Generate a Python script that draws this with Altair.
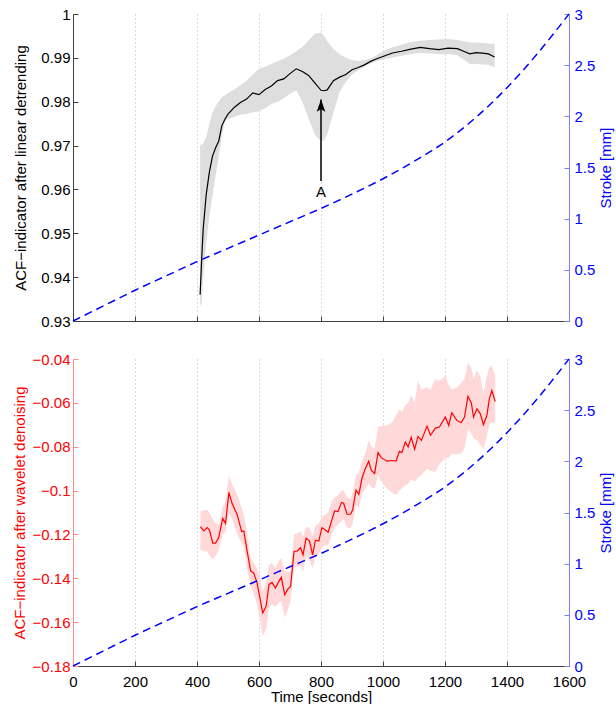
import altair as alt
import pandas as pd

# ---------------------------------------------------------------- data
# ACF indicator after linear detrending: mean and spread band
top_time = [410, 415, 420, 430, 440, 450, 460, 470, 480, 490,
            500, 520, 540, 560, 580, 600, 620, 640, 660, 680,
            700, 720, 740, 760, 780, 800, 810, 820, 840, 860,
            880, 900, 920, 940, 960, 980, 1000, 1030, 1060, 1090,
            1120, 1150, 1180, 1210, 1240, 1260, 1280, 1300, 1320, 1340,
            1360]
top_mean = [0.9360, 0.9440, 0.9510, 0.9590, 0.9640, 0.9676, 0.9695, 0.9710, 0.9745, 0.9760,
            0.9772, 0.9787, 0.9798, 0.9806, 0.9820, 0.9816, 0.9828, 0.9836, 0.9848, 0.9852,
            0.9864, 0.9875, 0.9869, 0.9860, 0.9843, 0.9826, 0.9825, 0.9827, 0.9848, 0.9856,
            0.9862, 0.9873, 0.9878, 0.9884, 0.9892, 0.9898, 0.9903, 0.9911, 0.9915, 0.9920,
            0.9924, 0.9921, 0.9919, 0.9922, 0.9921, 0.9915, 0.9909, 0.9912, 0.9911, 0.9909,
            0.9902]
top_upper = [0.9702, 0.9702, 0.9705, 0.9720, 0.9750, 0.9776, 0.9790, 0.9800, 0.9810, 0.9815,
             0.9820, 0.9828, 0.9838, 0.9848, 0.9862, 0.9875, 0.9880, 0.9886, 0.9892, 0.9898,
             0.9906, 0.9915, 0.9925, 0.9940, 0.9955, 0.9958, 0.9950, 0.9938, 0.9920, 0.9908,
             0.9900, 0.9895, 0.9893, 0.9895, 0.9899, 0.9906, 0.9915, 0.9924, 0.9930, 0.9936,
             0.9939, 0.9941, 0.9942, 0.9943, 0.9941, 0.9938, 0.9935, 0.9935, 0.9934, 0.9933,
             0.9932]
top_lower = [0.9335, 0.9340, 0.9400, 0.9480, 0.9540, 0.9585, 0.9630, 0.9675, 0.9720, 0.9755,
             0.9760, 0.9765, 0.9770, 0.9772, 0.9776, 0.9778, 0.9785, 0.9795, 0.9800, 0.9808,
             0.9818, 0.9826, 0.9800, 0.9762, 0.9725, 0.9710, 0.9712, 0.9725, 0.9775, 0.9822,
             0.9845, 0.9862, 0.9872, 0.9880, 0.9887, 0.9892, 0.9896, 0.9901, 0.9905, 0.9909,
             0.9911, 0.9910, 0.9908, 0.9909, 0.9906, 0.9896, 0.9886, 0.9886, 0.9885, 0.9884,
             0.9878]

# ACF indicator after wavelet denoising: mean and spread band
bot_time = [411, 422, 433, 440, 451, 460, 470, 483, 492, 503,
            513, 530, 544, 551, 562, 573, 583, 594, 605, 612,
            623, 632, 642, 653, 664, 672, 683, 694, 702, 713,
            724, 734, 742, 752, 763, 773, 782, 793, 803, 814,
            823, 834, 844, 855, 866, 873, 884, 895, 902, 913,
            922, 932, 943, 954, 962, 973, 984, 995, 1013, 1029,
            1042, 1053, 1061, 1072, 1081, 1091, 1102, 1113, 1124, 1142,
            1153, 1169, 1182, 1201, 1212, 1222, 1238, 1252, 1263, 1274,
            1285, 1292, 1303, 1314, 1324, 1335, 1343, 1351, 1362]
bot_mean = [-0.1164, -0.1184, -0.1169, -0.1180, -0.1240, -0.1240, -0.1214, -0.1127, -0.1149, -0.1008,
            -0.1058, -0.1111, -0.1187, -0.1184, -0.1278, -0.1366, -0.1376, -0.1422, -0.1505, -0.1558,
            -0.1528, -0.1429, -0.1419, -0.1444, -0.1414, -0.1396, -0.1475, -0.1447, -0.1437, -0.1278,
            -0.1275, -0.1260, -0.1293, -0.1217, -0.1230, -0.1293, -0.1226, -0.1230, -0.1169, -0.1180,
            -0.1190, -0.1139, -0.1093, -0.1096, -0.1054, -0.1058, -0.1108, -0.1108, -0.1089, -0.0998,
            -0.1018, -0.0945, -0.0899, -0.0866, -0.0907, -0.0922, -0.0827, -0.0851, -0.0866, -0.0863,
            -0.0866, -0.0821, -0.0827, -0.0778, -0.0801, -0.0757, -0.0812, -0.0753, -0.0771, -0.0706,
            -0.0748, -0.0715, -0.0710, -0.0665, -0.0703, -0.0645, -0.0680, -0.0691, -0.0665, -0.0570,
            -0.0600, -0.0665, -0.0627, -0.0650, -0.0700, -0.0658, -0.0582, -0.0544, -0.0594]
bot_lower = [-0.1270, -0.1275, -0.1278, -0.1295, -0.1316, -0.1300, -0.1270, -0.1200, -0.1190, -0.1104,
             -0.1130, -0.1200, -0.1240, -0.1255, -0.1360, -0.1430, -0.1470, -0.1520, -0.1600, -0.1664,
             -0.1630, -0.1535, -0.1520, -0.1530, -0.1510, -0.1505, -0.1580, -0.1540, -0.1500, -0.1354,
             -0.1345, -0.1340, -0.1370, -0.1300, -0.1320, -0.1354, -0.1300, -0.1290, -0.1260, -0.1248,
             -0.1250, -0.1200, -0.1170, -0.1157, -0.1140, -0.1130, -0.1170, -0.1172, -0.1150, -0.1066,
             -0.1080, -0.1013, -0.0990, -0.0968, -0.0985, -0.0990, -0.0930, -0.0960, -0.0990, -0.1010,
             -0.1020, -0.1000, -0.0990, -0.0975, -0.0970, -0.0950, -0.0960, -0.0940, -0.0930, -0.0900,
             -0.0910, -0.0915, -0.0880, -0.0852, -0.0850, -0.0831, -0.0835, -0.0830, -0.0809, -0.0718,
             -0.0740, -0.0763, -0.0770, -0.0790, -0.0809, -0.0750, -0.0700, -0.0688, -0.0695]
bot_upper = [-0.1096, -0.1090, -0.1089, -0.1100, -0.1130, -0.1150, -0.1157, -0.1073, -0.1050, -0.0930,
             -0.0970, -0.1020, -0.1080, -0.1110, -0.1200, -0.1308, -0.1330, -0.1354, -0.1410, -0.1460,
             -0.1420, -0.1340, -0.1330, -0.1354, -0.1320, -0.1308, -0.1370, -0.1370, -0.1370, -0.1200,
             -0.1195, -0.1187, -0.1210, -0.1165, -0.1170, -0.1210, -0.1160, -0.1150, -0.1120, -0.1110,
             -0.1100, -0.1050, -0.1030, -0.1020, -0.1000, -0.0998, -0.1030, -0.1040, -0.1010, -0.0930,
             -0.0920, -0.0869, -0.0830, -0.0771, -0.0800, -0.0809, -0.0710, -0.0705, -0.0703, -0.0690,
             -0.0657, -0.0627, -0.0640, -0.0612, -0.0600, -0.0566, -0.0600, -0.0498, -0.0540, -0.0529,
             -0.0540, -0.0491, -0.0500, -0.0476, -0.0520, -0.0540, -0.0530, -0.0510, -0.0490, -0.0415,
             -0.0440, -0.0490, -0.0453, -0.0480, -0.0560, -0.0480, -0.0440, -0.0430, -0.0476]

# Stroke of the loading rig
stroke_time = [0, 100, 200, 300, 400, 500, 600, 700, 800, 900,
               1000, 1100, 1200, 1300, 1400, 1500, 1600]
stroke_mm = [0.00, 0.15, 0.30, 0.44, 0.58, 0.71, 0.84, 0.97, 1.10, 1.24,
             1.39, 1.56, 1.75, 1.99, 2.28, 2.62, 3.00]

# Annotation "A": arrow pointing at the dip of the detrended indicator
arrow_time = [800]
arrow_tail = [0.9619]
arrow_tip = [0.9805]
arrow_label_y = [0.9594]

top_ticks = [0.93, 0.94, 0.95, 0.96, 0.97, 0.98, 0.99, 1.00]
bot_ticks = [-0.18, -0.16, -0.14, -0.12, -0.10, -0.08, -0.06, -0.04]
stroke_ticks = [0, 0.5, 1, 1.5, 2, 2.5, 3]
time_ticks = [0, 200, 400, 600, 800, 1000, 1200, 1400, 1600]

top_df = pd.DataFrame({"t": top_time, "v": top_mean, "lo": top_lower, "hi": top_upper})
bot_df = pd.DataFrame({"t": bot_time, "v": bot_mean, "lo": bot_lower, "hi": bot_upper})
stroke_df = pd.DataFrame({"t": stroke_time, "s": stroke_mm})
arrow_df = pd.DataFrame({"t": arrow_time, "tail": arrow_tail, "tip": arrow_tip,
                         "label_y": arrow_label_y})

# ---------------------------------------------------------------- styling
FONT = "Liberation Sans"
FS = 15
W, H = 496, 307
TICK = 5
BLACK = "#000000"
AXIS_GREY = "#404040"
RED = "#ff0000"
RED_AXIS = "#ff8c8c"
BLUE = "#0000ff"
BLUE_AXIS = "#8080ff"

x_scale = alt.Scale(domain=[0, 1600], nice=False)
stroke_scale = alt.Scale(domain=[0, 3], nice=False, zero=False)


def x_axis(show_labels):
    kw = dict(orient="bottom", values=time_ticks, format="d", ticks=False, tickSize=0,
              domain=True, domainColor=AXIS_GREY, domainWidth=1,
              grid=True, gridColor="#b4b4b4", gridDash=[1, 3], gridWidth=1,
              labels=show_labels, labelFlush=False, labelOverlap=False,
              labelFont=FONT, labelFontSize=FS, labelColor=BLACK, labelPadding=8)
    if show_labels:
        kw.update(title="Time [seconds]", titleFont=FONT, titleFontSize=FS,
                  titleFontWeight="normal", titleColor=BLACK, titlePadding=0)
    else:
        kw.update(title=None)
    return alt.Axis(**kw)


def x_tick_axis():
    # inward ticks: a tick-only axis shifted into the plot area
    return alt.Axis(orient="bottom", values=time_ticks, offset=-TICK, ticks=True,
                    tickSize=TICK, tickColor=AXIS_GREY, domain=False, labels=False,
                    grid=False, title=None)


def y_axis(orient, values, fmt, title, label_color, line_color, title_pad, label_pad):
    kw = dict(orient=orient, values=values, format=fmt, ticks=False, tickSize=0,
              domain=True, domainColor=line_color, domainWidth=1, grid=False,
              labelFont=FONT, labelFontSize=FS, labelColor=label_color,
              labelPadding=label_pad, labelOverlap=False,
              title=title, titleFont=FONT, titleFontSize=FS, titleFontWeight="normal",
              titleColor=label_color, titlePadding=title_pad, titleY=H / 2)
    if orient == "right":
        kw.update(titleAngle=270, titleBaseline="top")
    return alt.Axis(**kw)


def y_tick_axis(orient, values, color):
    return alt.Axis(orient=orient, values=values, offset=-TICK, ticks=True,
                    tickSize=TICK, tickColor=color, domain=False, labels=False,
                    grid=False, title=None)


def stroke_layers():
    stroke = alt.Chart(stroke_df).mark_line(
        color=BLUE, strokeDash=[8, 5], strokeWidth=1.5, interpolate="monotone"
    ).encode(
        x=alt.X("t:Q", scale=x_scale, axis=None),
        y=alt.Y("s:Q", scale=stroke_scale,
                axis=y_axis("right", stroke_ticks, "~g", "Stroke [mm]", BLUE, BLUE_AXIS, 4, 5)),
    )
    stroke_ticks_layer = alt.Chart(stroke_df).mark_line(opacity=0).encode(
        x=alt.X("t:Q", scale=x_scale, axis=None),
        y=alt.Y("s:Q", scale=stroke_scale, axis=y_tick_axis("right", stroke_ticks, BLUE_AXIS)),
    )
    return stroke, stroke_ticks_layer


# ---------------------------------------------------------------- top panel
top_scale = alt.Scale(domain=[0.93, 1.0], nice=False, zero=False)
top_left = y_axis("left", top_ticks, ".2~f", "ACF\u2212indicator after linear detrending",
                  BLACK, AXIS_GREY, 12, 3)
top_x = x_axis(False)

band_top = alt.Chart(top_df).mark_area(color="#dedede").encode(
    x=alt.X("t:Q", scale=x_scale, axis=top_x),
    y=alt.Y("lo:Q", scale=top_scale, axis=top_left),
    y2="hi:Q",
)
line_top = alt.Chart(top_df).mark_line(color=BLACK, strokeWidth=1.2).encode(
    x=alt.X("t:Q", scale=x_scale, axis=top_x),
    y=alt.Y("v:Q", scale=top_scale, axis=top_left),
)
arrow_shaft = alt.Chart(arrow_df).mark_rule(color=BLACK, strokeWidth=1.5).encode(
    x=alt.X("t:Q", scale=x_scale, axis=top_x),
    y=alt.Y("tail:Q", scale=top_scale, axis=top_left),
    y2="tip:Q",
)
arrow_head = alt.Chart(arrow_df).mark_point(
    shape="M0,-1L0.7,1L0,0.6L-0.7,1Z", filled=True, color=BLACK, opacity=1,
    size=150, yOffset=6,
).encode(
    x=alt.X("t:Q", scale=x_scale, axis=top_x),
    y=alt.Y("tip:Q", scale=top_scale, axis=top_left),
)
arrow_text = alt.Chart(arrow_df).mark_text(
    text="A", font=FONT, fontSize=FS, color=BLACK, baseline="middle", align="center"
).encode(
    x=alt.X("t:Q", scale=x_scale, axis=top_x),
    y=alt.Y("label_y:Q", scale=top_scale, axis=top_left),
)
acf_top = alt.layer(band_top, line_top, arrow_shaft, arrow_head, arrow_text)
acf_top_ticks = alt.Chart(top_df).mark_line(opacity=0).encode(
    x=alt.X("t:Q", scale=x_scale, axis=x_tick_axis()),
    y=alt.Y("v:Q", scale=top_scale, axis=y_tick_axis("left", top_ticks, AXIS_GREY)),
)
s_top, s_top_ticks = stroke_layers()

top_panel = alt.layer(acf_top, acf_top_ticks, s_top, s_top_ticks).resolve_scale(
    y="independent"
).resolve_axis(x="independent", y="independent").properties(width=W, height=H)

# ---------------------------------------------------------------- bottom panel
bot_scale = alt.Scale(domain=[-0.18, -0.04], nice=False, zero=False)
bot_left = y_axis("left", bot_ticks, ".2~f", "ACF\u2212indicator after wavelet denoising",
                  RED, RED_AXIS, 5, 3)
bot_x = x_axis(True)

band_bot = alt.Chart(bot_df).mark_area(color="#ffd9d9").encode(
    x=alt.X("t:Q", scale=x_scale, axis=bot_x),
    y=alt.Y("lo:Q", scale=bot_scale, axis=bot_left),
    y2="hi:Q",
)
line_bot = alt.Chart(bot_df).mark_line(color=RED, strokeWidth=1.2).encode(
    x=alt.X("t:Q", scale=x_scale, axis=bot_x),
    y=alt.Y("v:Q", scale=bot_scale, axis=bot_left),
)
acf_bot = alt.layer(band_bot, line_bot)
acf_bot_ticks = alt.Chart(bot_df).mark_line(opacity=0).encode(
    x=alt.X("t:Q", scale=x_scale, axis=x_tick_axis()),
    y=alt.Y("v:Q", scale=bot_scale, axis=y_tick_axis("left", bot_ticks, RED_AXIS)),
)
s_bot, s_bot_ticks = stroke_layers()

bottom_panel = alt.layer(acf_bot, acf_bot_ticks, s_bot, s_bot_ticks).resolve_scale(
    y="independent"
).resolve_axis(x="independent", y="independent").properties(width=W, height=H)

chart = alt.vconcat(top_panel, bottom_panel, spacing=23).properties(
    padding={"left": 12, "top": 7, "right": 2, "bottom": 0},
    background="white",
).configure(font=FONT).configure_view(stroke=None)

chart.save("out.html", embed_options={"renderer": "svg", "actions": False})
